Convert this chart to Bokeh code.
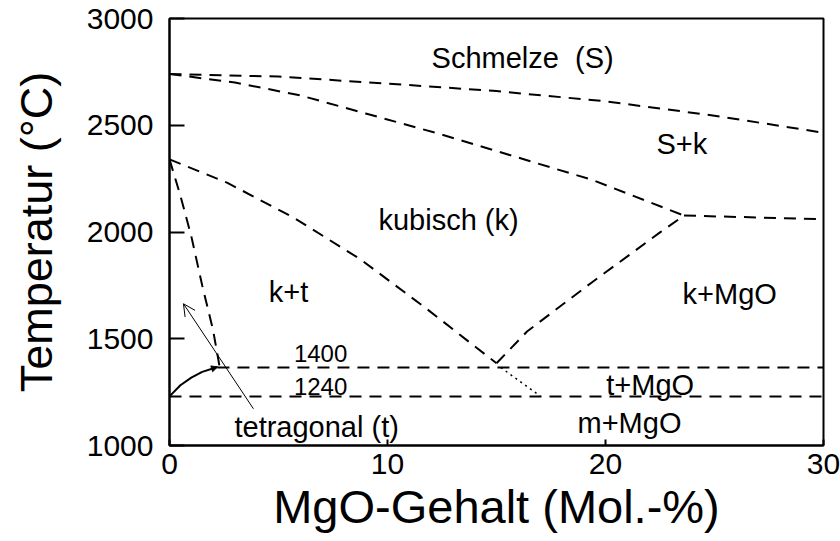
from bokeh.plotting import figure
from bokeh.models import Range1d, FixedTicker, Arrow, OpenHead, NormalHead, ColumnDataSource
from bokeh.core.properties import value
from bokeh.embed import file_html
from bokeh.resources import INLINE

# ---- data ----
# liquidus: melt / S+k
liq_x = [0, 5, 10, 15, 20, 25, 30]
liq_t = [2740, 2728, 2695, 2660, 2612, 2545, 2465]
# solidus: S+k / cubic
sol_x = [0, 3, 6, 9, 12.3, 16.4, 19.4, 23.6]
sol_t = [2740, 2700, 2640, 2555, 2462, 2336, 2244, 2077]
# eutectic horizontal k+MgO / S+k
eut_x = [23.6, 30]
eut_t = [2077, 2060]
# cubic / k+t boundary
ckt_x = [0, 2.66, 5.7, 8.76, 11.8, 15.0]
ckt_t = [2340, 2230, 2067, 1872, 1640, 1385]
# cubic / k+MgO boundary
ckm_x = [15.0, 16.4, 19.4, 22.5, 23.6]
ckm_t = [1385, 1534, 1766, 1998, 2077]
# tetragonal / k+t boundary
tkt_x = [0, 0.5, 1.0, 1.5, 2.0, 2.3]
tkt_t = [2340, 2170, 1980, 1750, 1540, 1368]
# monoclinic / tetragonal transition (solid)
mt_x = [0, 0.5, 1.0, 1.5, 2.2]
mt_t = [1230, 1282, 1318, 1345, 1368]
# eutectoid 1400 line
e1400_x = [2.2, 30]
e1400_t = [1365, 1365]
# 1240 line
e1240_x = [0, 30]
e1240_t = [1230, 1230]
# dotted
dot_x = [15.2, 17.0]
dot_t = [1365, 1232]
# arrow
arrow_start = (3.85, 1172)
arrow_end = (0.64, 1664)

x_ticks = [0, 10, 20, 30]
y_ticks = [1000, 1500, 2000, 2500, 3000]

label_text = ["Schmelze\u00a0 (S)", "S+k", "kubisch (k)", "k+t", "k+MgO",
              "t+MgO", "m+MgO", "tetragonal (t)"]
label_x = [16.2, 23.5, 12.8, 5.46, 25.7, 22.05, 21.1, 6.75]
label_y = [2815, 2411, 2055, 1720, 1710, 1283, 1107, 1086]

temp_text = ["1400", "1240"]
temp_x = [6.93, 6.93]
temp_y = [1432, 1276]

FONT = "Liberation Sans"

p = figure(width=840, height=541, x_range=Range1d(0, 30), y_range=Range1d(1000, 3000),
           output_backend="svg", toolbar_location=None,
           min_border_left=169, min_border_right=17, min_border_top=18, min_border_bottom=96)
p.xgrid.visible = False
p.ygrid.visible = False
p.outline_line_color = "black"
p.outline_line_width = 2
p.outline_line_alpha = 1
p.background_fill_color = "white"
p.border_fill_color = "white"

for ax, ticks, tin in ((p.xaxis, x_ticks, 6), (p.yaxis, y_ticks, 15)):
    ax.ticker = FixedTicker(ticks=ticks)
    ax.major_tick_in = tin
    ax.major_tick_out = 0
    ax.minor_tick_in = 0
    ax.minor_tick_out = 0
    ax.major_tick_line_width = 2
    ax.major_tick_line_color = "black"
    ax.axis_line_width = 2
    ax.axis_line_color = "black"
    ax.major_label_text_font = FONT
    ax.major_label_text_font_size = "30px"
    ax.major_label_text_color = "black"
    ax.axis_label_text_font = FONT
    ax.axis_label_text_font_style = "normal"
    ax.axis_label_text_color = "black"

p.xaxis.axis_label = "MgO-Gehalt (Mol.-%)"
p.yaxis.axis_label = "Temperatur (°C)"
p.xaxis.axis_label_text_font_size = "47px"
p.yaxis.axis_label_text_font_size = "45px"
p.xaxis.major_label_standoff = 8
p.xaxis.axis_label_standoff = 3
p.yaxis.major_label_standoff = 16
p.yaxis.axis_label_standoff = 22

dash = "12 8"
for xs, ts in ((liq_x, liq_t), (sol_x, sol_t), (eut_x, eut_t), (ckt_x, ckt_t),
               (ckm_x, ckm_t), (tkt_x, tkt_t), (e1400_x, e1400_t), (e1240_x, e1240_t)):
    p.line(xs, ts, line_color="black", line_width=2, line_dash=dash)

p.line(mt_x, mt_t, line_color="black", line_width=2)
p.line(dot_x, dot_t, line_color="black", line_width=1.5, line_dash="2 4")

p.add_layout(Arrow(end=OpenHead(size=12, line_width=1, line_color="black"),
                   x_start=arrow_start[0], y_start=arrow_start[1],
                   x_end=arrow_end[0], y_end=arrow_end[1],
                   line_color="black", line_width=1))
p.add_layout(Arrow(end=NormalHead(size=6, line_color="black", fill_color="black"),
                   x_start=mt_x[-2], y_start=mt_t[-2], x_end=mt_x[-1], y_end=mt_t[-1],
                   line_alpha=0))

src = ColumnDataSource(dict(x=label_x, y=label_y, t=label_text))
p.text("x", "y", text="t", source=src, text_font=value(FONT), text_font_size="29px",
       text_align="center", text_baseline="middle", text_color="black")
src2 = ColumnDataSource(dict(x=temp_x, y=temp_y, t=temp_text))
p.text("x", "y", text="t", source=src2, text_font=value(FONT), text_font_size="24px",
       text_align="center", text_baseline="middle", text_color="black")

open("out.html", "w").write(file_html(p, INLINE))
